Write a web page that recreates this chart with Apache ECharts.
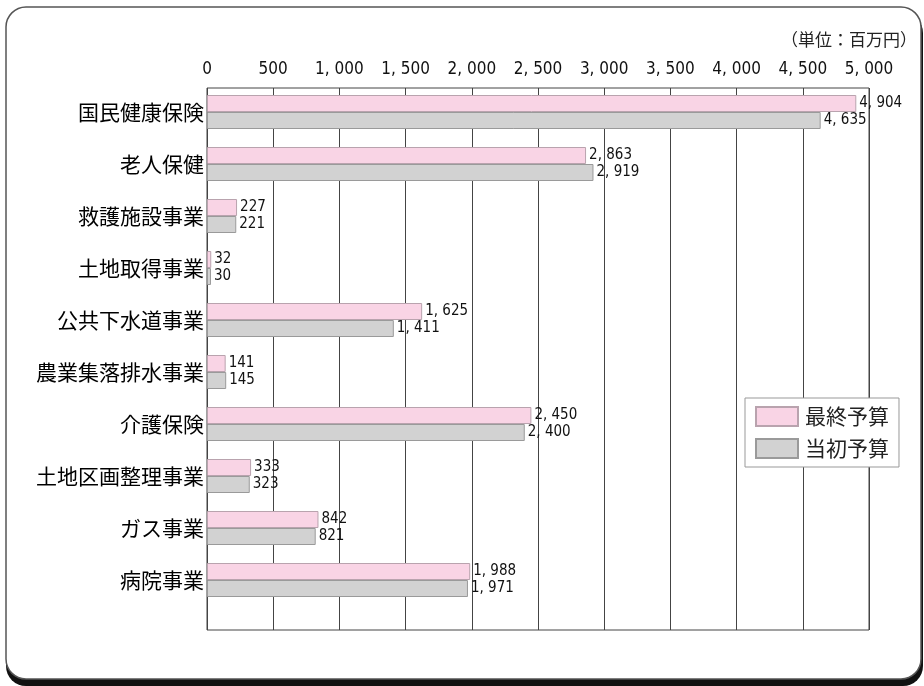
<!DOCTYPE html>
<html>
<head>
<meta charset="utf-8">
<script src="https://cdn.jsdelivr.net/npm/echarts@6/dist/echarts.min.js"></script>
<style>
  html, body { margin: 0; padding: 0; background: #ffffff; }
  #chart { width: 924px; height: 686px; }
</style>
</head>
<body>
<div id="chart"></div>
<script>
// 特別会計 予算額（単位：百万円）
const categories = ['国民健康保険', '老人保健', '救護施設事業', '土地取得事業', '公共下水道事業',
  '農業集落排水事業', '介護保険', '土地区画整理事業', 'ガス事業', '病院事業'];
const finalBudget = [4904, 2863, 227, 32, 1625, 141, 2450, 333, 842, 1988];
const initialBudget = [4635, 2919, 221, 30, 1411, 145, 2400, 323, 821, 1971];
const seriesNames = ['最終予算', '当初予算'];
const axisMax = 5000;
const axisStep = 500;

const narrow = "'Liberation Sans Narrow', 'DejaVu Sans Condensed', 'Noto Sans CJK JP', sans-serif";
const jp = "'Noto Sans CJK JP', sans-serif";

function fmt(v) {
  return String(v).replace(/\B(?=(\d{3})+(?!\d))/g, ', ');
}

const chart = echarts.init(document.getElementById('chart'));

chart.setOption({
  animation: false,
  backgroundColor: 'transparent',
  graphic: [
    { type: 'rect', z: -10, shape: { x: 6, y: 13, width: 917, height: 673, r: 20 }, style: { fill: '#111111' } },
    { type: 'rect', z: -9, shape: { x: 6, y: 7, width: 915, height: 672, r: 20 }, style: { fill: '#ffffff', stroke: '#555555', lineWidth: 1.5 } },
    { type: 'text', right: 7, top: 31, style: { text: '（単位：百万円）', font: '17px ' + jp, fill: '#222222' } }
  ],
  legend: {
    orient: 'vertical',
    left: 745,
    top: 398,
    width: 153,
    padding: [8, 10, 8, 10],
    itemGap: 11,
    itemWidth: 42,
    itemHeight: 19,
    borderColor: '#999999',
    borderWidth: 1,
    backgroundColor: '#ffffff',
    textStyle: { fontFamily: jp, fontSize: 21, color: '#222222', padding: [0, 0, 0, 2] },
    data: seriesNames.map(n => ({ name: n, icon: 'rect' }))
  },
  grid: [
    { left: 207, right: 55, top: 88, bottom: 56, show: true, borderColor: '#444444', borderWidth: 1, backgroundColor: 'transparent' },
    { left: 207, right: 55, top: 86, height: 520 }
  ],
  xAxis: [
    {
      gridIndex: 0, type: 'value', position: 'top', min: 0, max: axisMax, interval: axisStep,
      axisLine: { show: false }, axisTick: { show: false },
      axisLabel: { margin: 10, fontFamily: narrow, fontSize: 17, color: '#111111', formatter: fmt },
      splitLine: { show: true, lineStyle: { color: '#444444', width: 1 } }
    },
    {
      gridIndex: 1, type: 'value', min: 0, max: axisMax, interval: axisStep, show: false
    }
  ],
  yAxis: [
    { gridIndex: 0, type: 'value', show: false },
    {
      gridIndex: 1, type: 'category', inverse: true, data: categories,
      axisLine: { show: false }, axisTick: { show: false },
      axisLabel: { margin: 3, fontFamily: jp, fontSize: 21, color: '#000000' }
    }
  ],
  series: [
    {
      name: seriesNames[0], type: 'bar', xAxisIndex: 1, yAxisIndex: 1, data: finalBudget,
      barWidth: 17, barGap: '0%',
      itemStyle: { color: '#f9d4e5', borderColor: '#b9a3ae', borderWidth: 1 },
      label: { show: true, position: 'right', distance: 3, fontFamily: narrow, fontSize: 15, color: '#111111', formatter: p => fmt(p.value) }
    },
    {
      name: seriesNames[1], type: 'bar', xAxisIndex: 1, yAxisIndex: 1, data: initialBudget,
      barWidth: 17, barGap: '0%',
      itemStyle: { color: '#d2d2d2', borderColor: '#9a9a9a', borderWidth: 1 },
      label: { show: true, position: 'right', distance: 3, fontFamily: narrow, fontSize: 15, color: '#111111', formatter: p => fmt(p.value) }
    }
  ]
});
</script>
</body>
</html>
